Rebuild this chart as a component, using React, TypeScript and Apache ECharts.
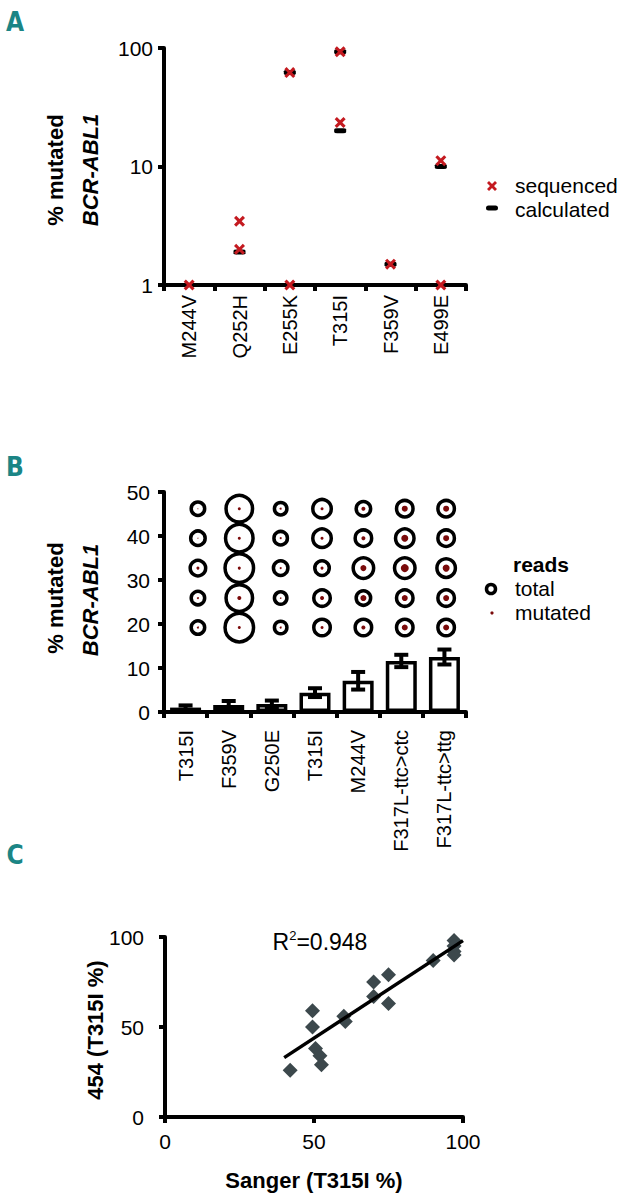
import React, { useEffect, useRef } from 'react';
import * as echarts from 'echarts';

const FONT = '"Liberation Sans", Arial, sans-serif';
const NARROW = '"Liberation Sans Narrow", "DejaVu Sans Condensed", sans-serif';
const RED = '#c41a20';
const DARK_RED = '#7a0a0a';
const TEAL = '#1b8585';
const GREY = '#3c484c';

// ---------- Panel A ----------
const mutationsA = ['M244V', 'Q252H', 'E255K', 'T315I', 'F359V', 'E499E'];
const sequencedMutation = ['M244V', 'Q252H', 'Q252H', 'E255K', 'E255K', 'T315I', 'T315I', 'F359V', 'E499E', 'E499E'];
const sequencedPercent = [1, 3.45, 2.0, 62, 1, 93, 23.5, 1.5, 11.2, 1];
const calculatedMutation = ['Q252H', 'E255K', 'T315I', 'T315I', 'F359V', 'E499E'];
const calculatedPercent = [1.9, 62, 93, 20, 1.5, 10];
const yTicksA = [1, 10, 100];

// ---------- Panel B ----------
const mutationsB = ['T315I', 'F359V', 'G250E', 'T315I', 'M244V', 'F317L-ttc>ctc', 'F317L-ttc>ttg'];
const meanMutated = [1.0, 1.6, 1.8, 4.4, 7.1, 11.6, 12.5];
const errMutated = [0.5, 0.9, 0.8, 1.0, 2.0, 1.4, 1.7];
const readRows = [46.2, 39.5, 32.7, 25.9, 19.2];
// symbol diameters (px), per column and row
const totalReads = [
  [17, 18, 19, 17, 17],
  [30, 31, 32, 30, 32],
  [16, 17, 18, 16, 16],
  [22, 22, 18, 20, 20],
  [18, 20, 24, 18, 20],
  [20, 22, 24, 20, 20],
  [20, 20, 22, 20, 20],
];
const mutatedReads = [
  [1, 1, 3, 2, 2],
  [3, 3, 3, 4, 3],
  [2, 2, 2, 1.5, 2],
  [3, 3, 3, 4, 3],
  [4, 4, 6, 6, 4],
  [6, 7, 8, 6, 6],
  [6, 6, 7, 6, 6],
];

// ---------- Panel C ----------
const sangerPct = [42, 49.5, 49.5, 50.5, 52, 52.5, 60, 60.5, 70, 70, 75, 75, 90, 97, 97, 97, 97];
const ngs454Pct = [26, 59, 50, 38, 34, 29, 56, 53, 75, 67, 79, 63, 87, 98, 95, 92, 90];
const fitX = [40, 100];
const fitY = [33, 98];
const rSquared = '0.948';

const X_PATH = 'path://M0,2 L2,0 L5,3 L8,0 L10,2 L7,5 L10,8 L8,10 L5,7 L2,10 L0,8 L3,5 Z';

const axisLine = { show: true, onZero: false, lineStyle: { color: '#000', width: 4 } };
const axisTick = { show: true, inside: false, length: 6, lineStyle: { color: '#000', width: 4 } };

function buildOption() {
  const bubbleTotal: number[][] = [];
  const bubbleMut: number[][] = [];
  totalReads.forEach((col, c) => {
    col.forEach((d, r) => {
      bubbleTotal.push([c, readRows[r], d]);
      bubbleMut.push([c, readRows[r], mutatedReads[c][r]]);
    });
  });

  const text = (x: number, y: number, t: string, extra: any = {}) => ({
    type: 'text',
    x,
    y,
    ...(extra.rotation ? { rotation: extra.rotation } : {}),
    style: {
      text: t,
      fill: extra.fill || '#000',
      fontSize: extra.fontSize || 21,
      fontFamily: extra.fontFamily || FONT,
      fontWeight: extra.fontWeight || 'normal',
      fontStyle: extra.fontStyle || 'normal',
      align: extra.align || 'left',
      verticalAlign: 'middle',
      ...(extra.rich ? { rich: extra.rich } : {}),
    },
  });

  const letter = (x: number, y: number, t: string) =>
    text(x, y, t, { fontSize: 26, fontWeight: 'bold', fontFamily: NARROW, align: 'center', fill: TEAL });

  const graphic: any[] = [
    letter(15, 22, 'A'),
    letter(15, 467, 'B'),
    letter(15, 855, 'C'),
    text(55, 170, '% mutated', { rotation: Math.PI / 2, fontWeight: 'bold', fontSize: 22, align: 'center' }),
    text(90, 170, 'BCR-ABL1', { rotation: Math.PI / 2, fontWeight: 'bold', fontSize: 22, fontStyle: 'italic', align: 'center' }),
    text(55, 598, '% mutated', { rotation: Math.PI / 2, fontWeight: 'bold', fontSize: 22, align: 'center' }),
    text(90, 600, 'BCR-ABL1', { rotation: Math.PI / 2, fontWeight: 'bold', fontSize: 22, fontStyle: 'italic', align: 'center' }),
    text(95, 1030, '454 (T315I %)', { rotation: Math.PI / 2, fontWeight: 'bold', fontSize: 22, align: 'center' }),
    text(314, 1180, 'Sanger (T315I %)', { fontWeight: 'bold', fontSize: 22, align: 'center' }),
    // legend A
    {
      type: 'polygon',
      x: 487,
      y: 181,
      shape: {
        points: [[0, 2], [2, 0], [5, 3], [8, 0], [10, 2], [7, 5], [10, 8], [8, 10], [5, 7], [2, 10], [0, 8], [3, 5]],
      },
      style: { fill: RED },
    },
    text(515, 185, 'sequenced'),
    { type: 'rect', shape: { x: 486, y: 205.5, width: 12, height: 5, r: 2.5 }, style: { fill: '#000' } },
    text(515, 209, 'calculated'),
    // legend B
    text(513, 564, 'reads', { fontWeight: 'bold' }),
    { type: 'circle', shape: { cx: 491, cy: 589, r: 4.5 }, style: { fill: '#fff', stroke: '#000', lineWidth: 3.5 } },
    text(515, 588, 'total'),
    { type: 'circle', shape: { cx: 492, cy: 613, r: 1.6 }, style: { fill: DARK_RED } },
    text(515, 612, 'mutated'),
    // R^2
    text(320, 942, 'R{s|2}=' + rSquared, {
      fontSize: 23,
      align: 'center',
      rich: { s: { fontSize: 13, fontFamily: FONT, padding: [0, 0, 13, 0] } },
    }),
  ];

  return {
    animation: false,
    backgroundColor: '#fff',
    grid: [
      { left: 164, top: 48, width: 302, height: 237 },
      { left: 164, top: 492, width: 302, height: 220 },
      { left: 165, top: 937, width: 298, height: 180 },
    ],
    xAxis: [
      {
        gridIndex: 0,
        type: 'category',
        data: mutationsA,
        axisLine,
        axisTick,
        axisLabel: { rotate: 90, margin: 10, interval: 0, color: '#000', fontSize: 20, fontFamily: FONT },
        splitLine: { show: false },
      },
      {
        gridIndex: 1,
        type: 'category',
        data: mutationsB,
        axisLine,
        axisTick,
        axisLabel: { rotate: 90, margin: 18, interval: 0, color: '#000', fontSize: 20, fontFamily: FONT },
        splitLine: { show: false },
      },
      { gridIndex: 1, type: 'value', min: -0.82, max: 6.48, show: false },
      {
        gridIndex: 2,
        type: 'value',
        min: 0,
        max: 100,
        interval: 50,
        axisLine,
        axisTick,
        axisLabel: { margin: 14, color: '#000', fontSize: 21, fontFamily: FONT },
        splitLine: { show: false },
      },
    ],
    yAxis: [
      {
        gridIndex: 0,
        type: 'log',
        logBase: 10,
        min: yTicksA[0],
        max: yTicksA[yTicksA.length - 1],
        axisLine,
        axisTick,
        minorTick: { show: false },
        axisLabel: { margin: 11, color: '#000', fontSize: 21, fontFamily: FONT },
        splitLine: { show: false },
      },
      {
        gridIndex: 1,
        type: 'value',
        min: 0,
        max: 50,
        interval: 10,
        axisLine,
        axisTick,
        axisLabel: { margin: 14, color: '#000', fontSize: 21, fontFamily: FONT },
        splitLine: { show: false },
      },
      {
        gridIndex: 2,
        type: 'value',
        min: 0,
        max: 100,
        interval: 50,
        axisLine,
        axisTick,
        axisLabel: { margin: 21, color: '#000', fontSize: 21, fontFamily: FONT },
        splitLine: { show: false },
      },
    ],
    series: [
      {
        name: 'calculated',
        type: 'scatter',
        xAxisIndex: 0,
        yAxisIndex: 0,
        symbol: 'roundRect',
        symbolSize: [12, 5],
        clip: false,
        itemStyle: { color: '#000', opacity: 1 },
        data: calculatedMutation.map((m, i) => [m, calculatedPercent[i]]),
        z: 3,
      },
      {
        name: 'sequenced',
        type: 'scatter',
        xAxisIndex: 0,
        yAxisIndex: 0,
        symbol: X_PATH,
        symbolSize: 11,
        clip: false,
        itemStyle: { color: RED, opacity: 1 },
        data: sequencedMutation.map((m, i) => [m, sequencedPercent[i]]),
        z: 4,
      },
      {
        name: 'mean',
        type: 'bar',
        xAxisIndex: 1,
        yAxisIndex: 1,
        barWidth: 31,
        itemStyle: { color: '#fff', borderColor: '#000', borderWidth: 3.5 },
        data: meanMutated,
      },
      {
        name: 'error',
        type: 'custom',
        xAxisIndex: 1,
        yAxisIndex: 1,
        encode: { x: 0, y: [1, 2] },
        data: meanMutated.map((m, i) => [i, m - errMutated[i], m + errMutated[i]]),
        renderItem: (params: any, api: any) => {
          const x = api.value(0);
          const lo = api.coord([x, api.value(1)]);
          const hi = api.coord([x, api.value(2)]);
          const hw = 7;
          const st = { stroke: '#000', lineWidth: 4 };
          return {
            type: 'group',
            children: [
              { type: 'line', shape: { x1: lo[0], y1: lo[1], x2: hi[0], y2: hi[1] }, style: st },
              { type: 'line', shape: { x1: hi[0] - hw, y1: hi[1], x2: hi[0] + hw, y2: hi[1] }, style: st },
              { type: 'line', shape: { x1: lo[0] - hw, y1: lo[1], x2: lo[0] + hw, y2: lo[1] }, style: st },
            ],
          };
        },
        z: 5,
      },
      {
        name: 'total',
        type: 'scatter',
        xAxisIndex: 2,
        yAxisIndex: 1,
        symbol: 'circle',
        symbolSize: (v: number[]) => v[2] - 3.5,
        itemStyle: { color: '#fff', borderColor: '#000', borderWidth: 3.5, opacity: 1 },
        data: bubbleTotal,
        z: 3,
      },
      {
        name: 'mutated',
        type: 'scatter',
        xAxisIndex: 2,
        yAxisIndex: 1,
        symbol: 'circle',
        symbolSize: (v: number[]) => v[2],
        itemStyle: { color: DARK_RED, opacity: 1 },
        data: bubbleMut,
        z: 4,
      },
      {
        name: 'T315I',
        type: 'scatter',
        xAxisIndex: 3,
        yAxisIndex: 2,
        symbol: 'diamond',
        symbolSize: 15,
        itemStyle: { color: GREY, opacity: 1 },
        data: sangerPct.map((s, i) => [s, ngs454Pct[i]]),
        z: 3,
      },
      {
        name: 'fit',
        type: 'line',
        xAxisIndex: 3,
        yAxisIndex: 2,
        symbol: 'none',
        lineStyle: { color: '#000', width: 3.5 },
        data: fitX.map((x, i) => [x, fitY[i]]),
        z: 4,
      },
    ],
    graphic,
  };
}

export default function App() {
  const ref = useRef<HTMLDivElement>(null);
  useEffect(() => {
    if (!ref.current) return;
    const chart = echarts.init(ref.current, undefined, { renderer: 'svg' });
    chart.setOption(buildOption() as any);
    return () => chart.dispose();
  }, []);
  return (
    <div
      ref={ref}
      style={{ position: 'absolute', left: 0, top: 0, width: 637, height: 1204, background: '#fff' }}
    />
  );
}
